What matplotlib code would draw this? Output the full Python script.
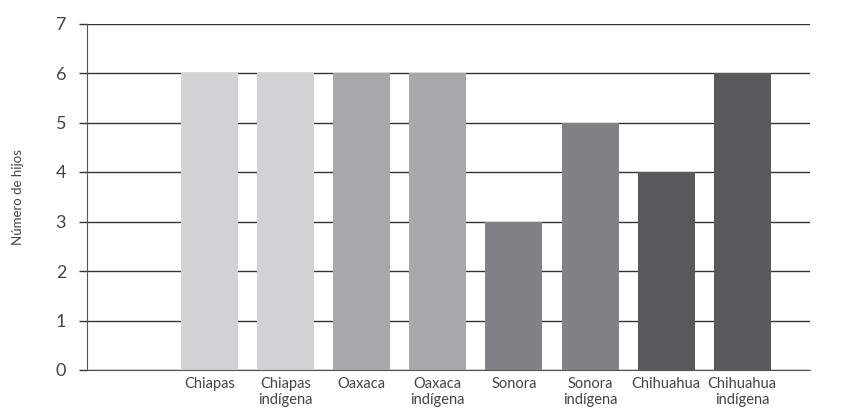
import matplotlib
matplotlib.use("Agg")
import matplotlib.pyplot as plt

categories = ["Chiapas", "Chiapas\nindígena", "Oaxaca", "Oaxaca\nindígena",
              "Sonora", "Sonora\nindígena", "Chihuahua", "Chihuahua\nindígena"]
values = [6, 6, 6, 6, 3, 5, 4, 6]
colors = ["#d1d2d4", "#d1d2d4", "#a7a8ab", "#a7a8ab",
          "#808285", "#808285", "#58595b", "#58595b"]
yticks = [0, 1, 2, 3, 4, 5, 6, 7]

plt.rcParams['font.family'] = ['Lato', 'DejaVu Sans']

fig = plt.figure(figsize=(8.52, 4.17), dpi=100)
ax = fig.add_axes([87/852, 1 - 370/417, (810-87)/852, (370-23.5)/417])

x = list(range(len(categories)))
ax.bar(x, values, width=0.75, color=colors, zorder=3)

ax.set_ylim(0, 7)
ax.set_xlim(-1.61, 7.89)
ax.set_yticks(yticks)
ax.set_yticklabels([str(t) for t in yticks], fontsize=13, color="#444444")
ax.yaxis.grid(True, color="#333333", linewidth=1.0, zorder=0)
ax.set_axisbelow(True)

ax.set_xticks(x)
ax.set_xticklabels(categories, fontsize=10.5, color="#444444", linespacing=1.15)
ax.tick_params(axis='x', length=0, pad=5)
ax.tick_params(axis='y', length=6, color="#333333", width=1.0, pad=9)

for s in ["top", "right"]:
    ax.spines[s].set_visible(False)
ax.spines["left"].set_color("#555555")
ax.spines["bottom"].set_color("#555555")

ax.set_ylabel("Número de hijos", fontsize=9.5, color="#444444", labelpad=23)

fig.savefig("out.png", dpi=100)
